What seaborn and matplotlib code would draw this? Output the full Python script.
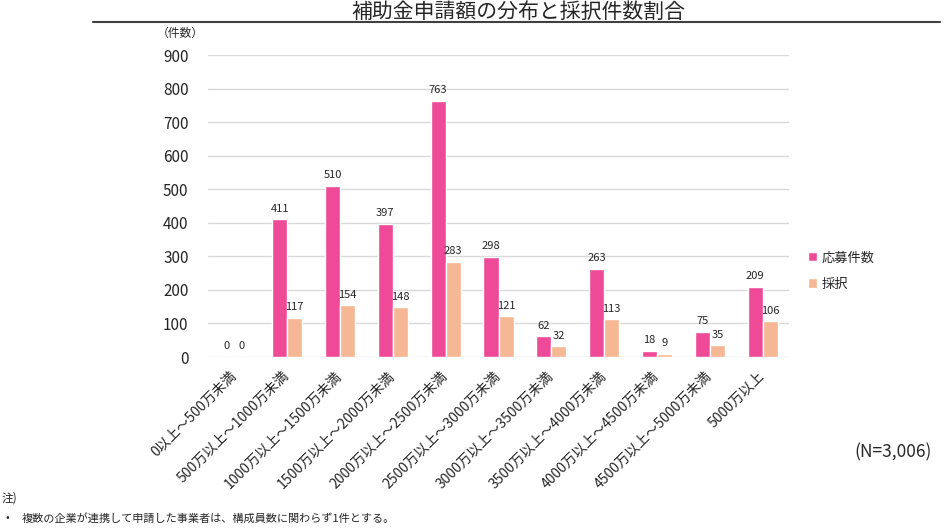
import pandas as pd
import matplotlib.pyplot as plt
import seaborn as sns
from matplotlib.lines import Line2D

sns.set_style("white")
plt.rcParams['font.family'] = ['Noto Sans CJK JP', 'DejaVu Sans']

# Data
categories = ['0以上～500万未満', '500万以上～1000万未満', '1000万以上～1500万未満',
              '1500万以上～2000万未満', '2000万以上～2500万未満', '2500万以上～3000万未満',
              '3000万以上～3500万未満', '3500万以上～4000万未満', '4000万以上～4500万未満',
              '4500万以上～5000万未満', '5000万以上']
applications = [0, 411, 510, 397, 763, 298, 62, 263, 18, 75, 209]
adopted = [0, 117, 154, 148, 283, 121, 32, 113, 9, 35, 106]
series_names = ['応募件数', '採択']
colors = ['#EE4A98', '#F5B794']
y_ticks = list(range(0, 1000, 100))

df = pd.DataFrame({
    'category': categories * 2,
    'count': applications + adopted,
    'series': [series_names[0]] * len(categories) + [series_names[1]] * len(categories),
})

fig = plt.figure(figsize=(9.5, 5.28), dpi=100)
ax = fig.add_axes([208 / 950, 1 - 357 / 528, 581 / 950, 302 / 528])

sns.barplot(data=df, x='category', y='count', hue='series', palette=colors,
            width=0.57, ax=ax, saturation=1, legend=True)

# value labels
for cont in ax.containers:
    ax.bar_label(cont, fontsize=8, padding=4, color='#262626')

ax.set_ylim(0, 900)
ax.set_yticks(y_ticks)
ax.set_xlim(-0.5, len(categories) - 0.5)
ax.yaxis.grid(True, color='#D9D9D9', linewidth=1)
ax.set_axisbelow(True)
for s in ax.spines.values():
    s.set_visible(False)
ax.tick_params(axis='both', length=0)
ax.tick_params(axis='y', labelsize=11, labelcolor='#262626', pad=14)
ax.set_xlabel('')
ax.set_ylabel('')
ax.set_xticks(range(len(categories)))
ax.set_xticklabels(categories, rotation=45, ha='right', va='center',
                   rotation_mode='anchor', fontsize=10, color='#262626')
ax.tick_params(axis='x', pad=12)

# legend
ax.legend(loc='center left', bbox_to_anchor=(808 / 950, 1 - 271 / 528),
          bbox_transform=fig.transFigure, frameon=False, fontsize=9.5,
          handlelength=0.7, handleheight=0.7, handletextpad=0.3,
          labelspacing=1.0, borderpad=0, borderaxespad=0)

# title and rule
fig.text(518 / 950, 1 - 12 / 528, '補助金申請額の分布と採択件数割合', ha='center', va='center',
         fontsize=15, color='#262626')
fig.add_artist(Line2D([93 / 950, 940 / 950], [1 - 22 / 528] * 2, color='#404040', lw=1.5))

fig.text(180 / 950, 1 - 33 / 528, '（件数）', ha='center', va='center', fontsize=8.5, color='#262626')
fig.text(932 / 950, 1 - 452 / 528, '(N=3,006)', ha='right', va='center', fontsize=12.5, color='#262626')
fig.text(2 / 950, 1 - 498 / 528, '注)', ha='left', va='center', fontsize=8.5, color='#262626')
fig.text(6 / 950, 1 - 518 / 528, '•', ha='left', va='center', fontsize=8, color='#262626')
fig.text(22 / 950, 1 - 518 / 528, '複数の企業が連携して申請した事業者は、構成員数に関わらず1件とする。',
         ha='left', va='center', fontsize=8, color='#262626')

fig.savefig('out.png', dpi=100)
